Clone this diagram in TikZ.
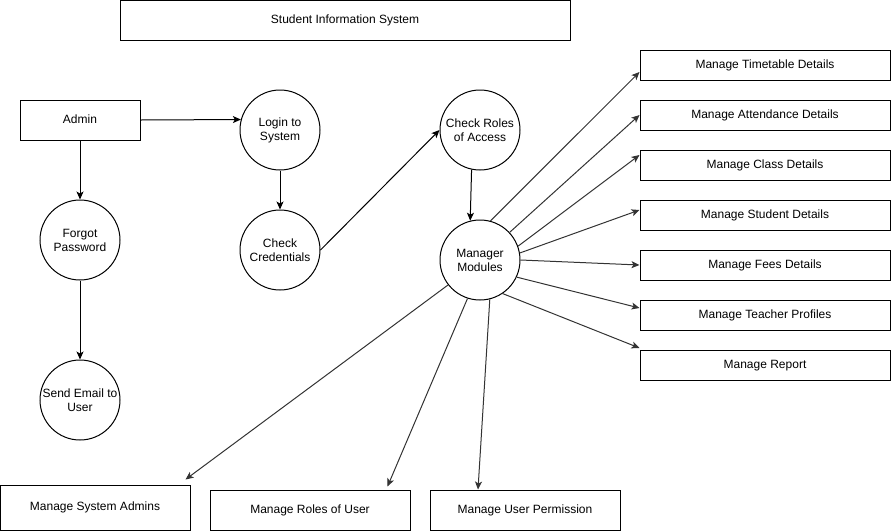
\documentclass[tikz,border=0pt]{standalone}
\usepackage{fontspec}
\setmainfont{Liberation Sans}
\usetikzlibrary{arrows.meta, positioning}
\definecolor{sisgray}{HTML}{333333}

\begin{document}
\begin{tikzpicture}[
    x=1pt, y=-1pt,
    every node/.style={font=\fontsize{12pt}{14pt}\selectfont},
    box/.style={
        rectangle,
        draw,
        line width=1pt,
        inner sep=0pt,
        minimum width=#1,
        minimum height=30pt,
        text height=9pt,
        text depth=3pt,
        align=center
    },
    box/.default=250pt,
    proc/.style={
        circle,
        draw,
        line width=1pt,
        inner sep=0pt,
        minimum size=80pt,
        align=center
    },
    arrow/.style={
        -{Stealth[length=8pt, width=7pt, inset=2pt]},
        line width=1pt
    },
    modarrow/.style={
        arrow,
        sisgray
    }
]
\useasboundingbox (0,0) rectangle (891,531);

% Title
\node[box=450pt, minimum height=40pt] (title) at (345,20) {Student Information System};

% Login flow
\node[box=120pt, minimum height=40pt] (admin) at (80,120) {Admin};
\node[proc] (login) at (280,130) {Login to\\System};
\node[proc] (cred) at (280,250) {Check\\Credentials};
\node[proc] (forgot) at (80,240) {Forgot\\Password};
\node[proc] (email) at (80,400) {Send Email to\\User};
\node[proc] (roles) at (480,130) {Check Roles\\of Access};
\node[proc] (mm) at (480,260) {Manager\\Modules};

% Module boxes
\node[box] (timetable) at (765,65) {Manage Timetable Details};
\node[box] (attend) at (765,115) {Manage Attendance Details};
\node[box] (class) at (765,165) {Manage Class Details};
\node[box] (student) at (765,215) {Manage Student Details};
\node[box] (fees) at (765,265) {Manage Fees Details};
\node[box] (teacher) at (765,315) {Manage Teacher Profiles};
\node[box] (report) at (765,365) {Manage Report};

\node[box=190pt, minimum height=45pt] (sysadmin) at (95,507.5) {Manage System Admins};
\node[box=200pt, minimum height=40pt] (userroles) at (310,510) {Manage Roles of User};
\node[box=190pt, minimum height=40pt] (perm) at (525,510) {Manage User Permission};

% Arrows
\draw[arrow] (admin.east) -- (login.165);
\draw[arrow] (admin) -- (forgot);
\draw[arrow] (forgot) -- (email);
\draw[arrow] (login) -- (cred);
\draw[arrow] (cred.east) -- (roles.west);
\draw[arrow] (roles.258) -- (mm.104);

% Module arrows
\draw[modarrow] (mm.75) -- ([yshift=-7pt]timetable.west);
\draw[modarrow] (mm.43) -- (attend.west);
\draw[modarrow] (mm.20) -- ([yshift=10pt]class.west);
\draw[modarrow] (mm.10) -- ([yshift=5pt]student.west);
\draw[modarrow] (mm.0) -- (fees.west);
\draw[modarrow] (mm.-25) -- ([yshift=7pt]teacher.west);
\draw[modarrow] (mm.-56) -- ([yshift=17pt]report.west);
\draw[modarrow] (mm.218) -- ([shift={(-5pt,5pt)}]sysadmin.north east);
\draw[modarrow] (mm.252) -- ([shift={(-23pt,3pt)}]userroles.north east);
\draw[modarrow] (mm.-76) -- ([xshift=-47pt]perm.north);

\end{tikzpicture}
\end{document}
